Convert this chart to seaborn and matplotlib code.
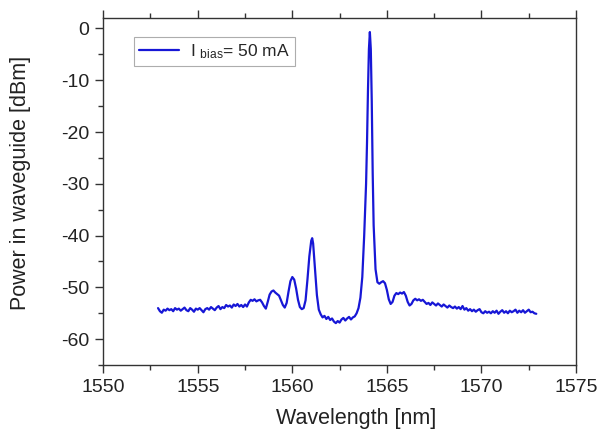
import matplotlib
matplotlib.use("Agg")
import matplotlib.pyplot as plt
import seaborn as sns
import pandas as pd
from matplotlib.ticker import MultipleLocator

wavelength = [
    1552.90, 1553.00, 1553.10, 1553.20, 1553.30, 1553.40, 1553.50, 1553.60, 1553.70, 1553.80,
    1553.90, 1554.00, 1554.10, 1554.20, 1554.30, 1554.40, 1554.50, 1554.60, 1554.70, 1554.80,
    1554.90, 1555.00, 1555.10, 1555.20, 1555.30, 1555.40, 1555.50, 1555.60, 1555.70, 1555.80,
    1555.90, 1556.00, 1556.10, 1556.20, 1556.30, 1556.40, 1556.50, 1556.60, 1556.70, 1556.80,
    1556.90, 1557.00, 1557.10, 1557.20, 1557.30, 1557.40, 1557.50, 1557.60, 1557.70, 1557.80,
    1557.90, 1558.00, 1558.10, 1558.20, 1558.30, 1558.40, 1558.50, 1558.60, 1558.70, 1558.80,
    1558.90, 1559.00, 1559.10, 1559.20, 1559.30, 1559.40, 1559.50, 1559.60, 1559.70, 1559.80,
    1559.90, 1560.00, 1560.10, 1560.20, 1560.30, 1560.40, 1560.50, 1560.60, 1560.70, 1560.80,
    1560.90, 1561.00, 1561.05, 1561.10, 1561.20, 1561.30, 1561.40, 1561.50, 1561.60, 1561.70,
    1561.80, 1561.90, 1562.00, 1562.10, 1562.20, 1562.30, 1562.40, 1562.50, 1562.60, 1562.70,
    1562.80, 1562.90, 1563.00, 1563.10, 1563.20, 1563.30, 1563.40, 1563.50, 1563.60, 1563.70,
    1563.80, 1563.90, 1563.95, 1564.00, 1564.05, 1564.10, 1564.15, 1564.20, 1564.25, 1564.30,
    1564.40, 1564.50, 1564.60, 1564.70, 1564.80, 1564.90, 1565.00, 1565.10, 1565.20, 1565.30,
    1565.40, 1565.50, 1565.60, 1565.70, 1565.80, 1565.90, 1566.00, 1566.10, 1566.20, 1566.30,
    1566.40, 1566.50, 1566.60, 1566.70, 1566.80, 1566.90, 1567.00, 1567.10, 1567.20, 1567.30,
    1567.40, 1567.50, 1567.60, 1567.70, 1567.80, 1567.90, 1568.00, 1568.10, 1568.20, 1568.30,
    1568.40, 1568.50, 1568.60, 1568.70, 1568.80, 1568.90, 1569.00, 1569.10, 1569.20, 1569.30,
    1569.40, 1569.50, 1569.60, 1569.70, 1569.80, 1569.90, 1570.00, 1570.10, 1570.20, 1570.30,
    1570.40, 1570.50, 1570.60, 1570.70, 1570.80, 1570.90, 1571.00, 1571.10, 1571.20, 1571.30,
    1571.40, 1571.50, 1571.60, 1571.70, 1571.80, 1571.90, 1572.00, 1572.10, 1572.20, 1572.30,
    1572.40, 1572.50, 1572.60, 1572.70, 1572.80, 1572.90,
]

power_dbm = [
    -54.0, -54.6, -54.9, -54.3, -54.5, -54.1, -54.4, -54.2, -54.6, -54.0,
    -54.3, -54.1, -54.5, -54.2, -53.9, -54.4, -54.6, -54.0, -54.3, -54.7,
    -54.1, -54.3, -54.0, -54.4, -54.8, -54.2, -54.0, -54.3, -53.8, -54.1,
    -54.4, -53.9, -53.6, -54.2, -53.8, -54.0, -53.4, -53.7, -53.5, -53.9,
    -53.3, -53.6, -53.2, -53.7, -53.4, -53.8, -53.3, -53.7, -52.9, -52.4,
    -52.6, -52.3, -52.7, -52.5, -52.4, -52.9, -53.6, -54.1, -52.8, -51.4,
    -50.8, -50.6, -51.0, -51.3, -51.6, -52.5, -53.4, -53.9, -53.0, -50.8,
    -48.8, -48.0, -48.5, -50.2, -52.4, -53.8, -54.2, -54.0, -52.5, -48.5,
    -44.0, -41.0, -40.5, -41.5, -46.5, -51.5, -54.3, -55.2, -55.8, -55.5,
    -56.1, -55.7, -56.3, -56.0, -56.6, -56.9, -56.5, -56.8, -56.2, -55.9,
    -56.4, -56.0, -55.7, -56.2, -55.8, -55.6, -55.0, -54.0, -52.0, -48.0,
    -40.0, -30.0, -22.0, -12.0, -4.0, -0.7, -4.0, -14.0, -28.0, -38.0,
    -46.5, -49.0, -49.3, -49.0, -48.8, -49.2, -50.5, -52.3, -53.2, -52.8,
    -51.6, -51.1, -51.3, -51.0, -51.2, -50.9, -51.6, -52.8, -53.5, -53.2,
    -52.5, -52.2, -52.5, -52.3, -52.6, -52.4, -52.8, -53.2, -53.0, -53.4,
    -52.9, -53.2, -53.5, -53.1, -53.4, -53.7, -53.3, -53.6, -53.9, -53.5,
    -53.8, -54.0, -53.7, -54.1, -53.8, -54.2, -53.6, -54.3, -54.0, -54.5,
    -54.2, -54.6, -54.3, -54.7, -54.4, -54.2, -54.8, -55.0, -54.6, -54.9,
    -54.7, -55.0, -54.6, -54.9, -54.5, -55.1, -54.7, -54.4, -54.9, -54.6,
    -55.0, -54.5, -54.8, -54.6, -54.3, -54.9, -54.5, -54.8, -54.4, -54.9,
    -54.6, -54.3, -54.8, -54.7, -55.0, -55.1,
]

series_label = r"I $_{bias}$= 50 mA"
x_ticks = [1550, 1555, 1560, 1565, 1570, 1575]
y_ticks = [0, -10, -20, -30, -40, -50, -60]

sns.set_style("white")
plt.rcParams["font.family"] = ["Liberation Sans", "DejaVu Sans"]
plt.rcParams["mathtext.default"] = "regular"
plt.rcParams["axes.unicode_minus"] = False

df = pd.DataFrame({"Wavelength": wavelength, "Power": power_dbm})

fig = plt.figure(figsize=(6.0, 4.3), dpi=100)
ax = fig.add_axes([0.172, 0.151, 0.788, 0.807])

sns.lineplot(data=df, x="Wavelength", y="Power", ax=ax, color="#1717d6",
             linewidth=1.6, label=series_label, sort=False)

ax.set_xlim(1550, 1575)
ax.set_ylim(-65, 2)
ax.set_xticks(x_ticks)
ax.set_yticks(y_ticks)
ax.xaxis.set_minor_locator(MultipleLocator(2.5))
ax.yaxis.set_minor_locator(MultipleLocator(5))

for s in ax.spines.values():
    s.set_color("#333333")
    s.set_linewidth(1.0)

ax.tick_params(axis="both", which="major", direction="out", length=6, width=1.0,
               color="#333333", labelsize=14, labelcolor="#222222",
               bottom=True, left=True, top=True, right=False, pad=4)
ax.tick_params(axis="both", which="minor", direction="out", length=3.5, width=1.0,
               color="#333333", bottom=True, left=True, top=True, right=False)

ax.set_xlabel("Wavelength [nm]", fontsize=15.5, color="#222222")
ax.set_ylabel("Power in waveguide [dBm]", fontsize=15.5, color="#222222")
ax.xaxis.set_label_coords(0.534, -0.125)
ax.yaxis.set_label_coords(-0.175, 0.524)
ax.xaxis.label.set_va("top")
ax.yaxis.label.set_va("center")

leg = ax.legend(loc="upper left", bbox_to_anchor=(0.0655, 0.945), fontsize=12.5,
                frameon=True, fancybox=False, handlelength=2.3, borderpad=0.3,
                handletextpad=0.6, borderaxespad=0.0)
leg.get_frame().set_edgecolor("#999999")
leg.get_frame().set_linewidth(0.8)

fig.savefig("out.png", dpi=100)
